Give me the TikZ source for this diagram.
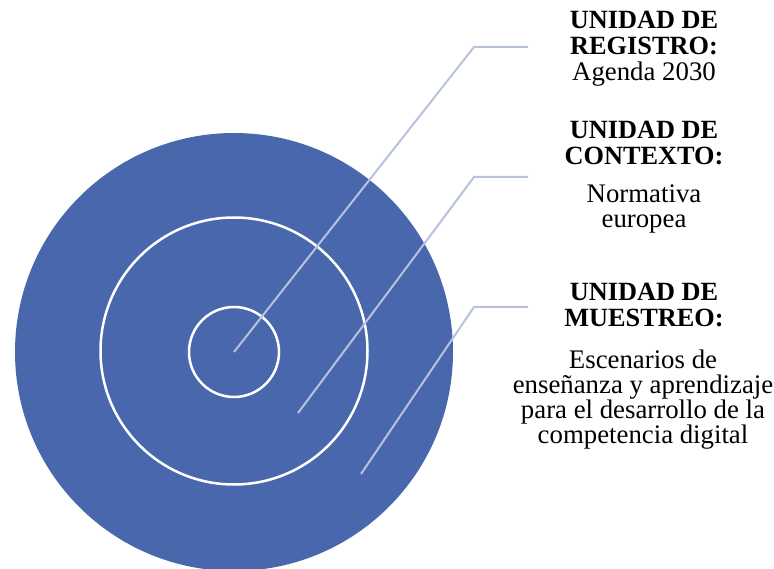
\documentclass[tikz,border=0pt]{standalone}
\usepackage{fontspec}
\setmainfont{Liberation Serif}
\definecolor{ringblue}{RGB}{72,103,173}
\definecolor{leadergray}{RGB}{184,193,222}
\begin{document}
\begin{tikzpicture}[x=1pt,y=-1pt,
  disc/.style={circle, fill=ringblue, inner sep=0pt, minimum size=#1},
  ring/.style={circle, draw=white, line width=2.5pt, inner sep=0pt, minimum size=#1},
  leaderline/.style={draw=leadergray, line width=2pt},
  head/.style={align=center, font=\fontsize{26.3}{26.5}\selectfont\bfseries, inner sep=0pt, anchor=base},
  body/.style={align=center, font=\fontsize{26.8}{25}\selectfont, inner sep=0pt, anchor=base}]
\useasboundingbox (0,0) rectangle (774,569);
\node[disc=438pt] (outer) at (234,352) {};
\node[ring=267pt] (middle) at (234,351) {};
\node[ring=90pt] (inner) at (234,352) {};
% texts (base = baseline of last line)
\node[head] (h1) at (644,55) {UNIDAD DE\\REGISTRO:};
\node[body] (b1) at (644,81) {Agenda 2030};
\node[head] (h2) at (644,165) {UNIDAD DE\\CONTEXTO:};
\node[body] (b2) at (644,228) {Normativa\\europea};
\node[head] (h3) at (644,327) {UNIDAD DE\\MUESTREO:};
\node[body] (b3) at (643,443) {Escenarios de\\enseñanza y aprendizaje\\para el desarrollo de la\\competencia digital};
% leaders
\coordinate (p1) at (234,352); \coordinate (k1) at (474,47); \coordinate (e1) at (528,47);
\coordinate (p2) at (298,413); \coordinate (k2) at (474,177); \coordinate (e2) at (528,177);
\coordinate (p3) at (361,474); \coordinate (k3) at (474,307); \coordinate (e3) at (528,307);
\draw[leaderline] (p1) -- (k1) -- (e1);
\draw[leaderline] (p2) -- (k2) -- (e2);
\draw[leaderline] (p3) -- (k3) -- (e3);
\end{tikzpicture}
\end{document}
